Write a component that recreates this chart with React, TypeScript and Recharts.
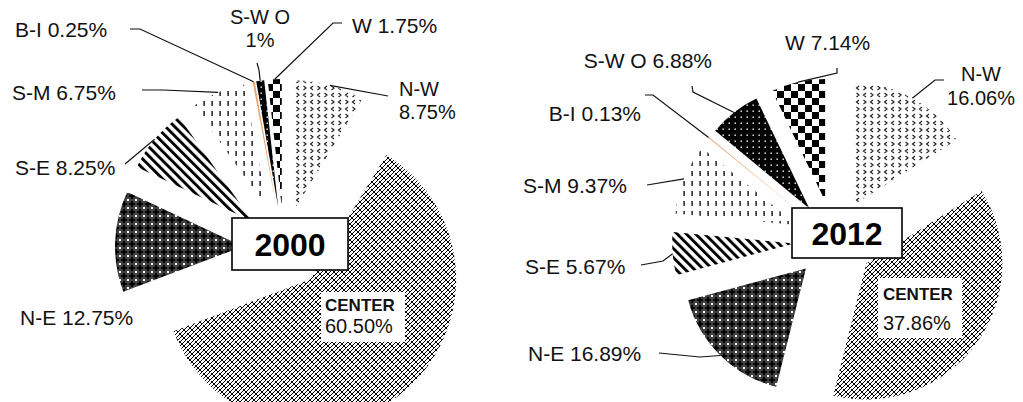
import { PieChart, Pie, Sector } from "recharts";

// regional shares, listed clockwise from 12 o'clock
const regions = ["N-W", "CENTER", "N-E", "S-E", "S-M", "B-I", "S-W O", "W"];
const share2000 = [8.75, 60.5, 12.75, 8.25, 6.75, 0.25, 1, 1.75];
const share2012 = [16.06, 37.86, 16.89, 5.67, 9.37, 0.13, 6.88, 7.14];
const years = ["2000", "2012"];

const RAD = Math.PI / 180;
const FONT = "'Liberation Sans', Arial, sans-serif";

const fills: Record<string, string> = {
  "N-W": "url(#fill-nw)",
  CENTER: "url(#fill-center)",
  "N-E": "url(#fill-ne)",
  "S-E": "url(#fill-se)",
  "S-M": "url(#fill-sm)",
  "B-I": "#eba36c",
  "S-W O": "url(#fill-swo)",
  W: "url(#fill-w)",
};

type Tag = {
  x: number;
  y: number;
  split?: boolean;
  gap?: number;
  anchor?: "start" | "middle" | "end";
  leader?: number[][];
  box?: number[];
};

const tags2000: Record<string, Tag> = {
  "N-W": { x: 399, y: 96, split: true, gap: 23, leader: [[388, 96]] },
  CENTER: { x: 325, y: 311, split: true, gap: 22, box: [321, 292, 84, 50] },
  "N-E": { x: 20, y: 325 },
  "S-E": { x: 15, y: 175, leader: [[125, 164]] },
  "S-M": { x: 12, y: 100, leader: [[142, 90], [163, 90]] },
  "B-I": { x: 15, y: 37, leader: [[130, 29], [140, 29]] },
  "S-W O": { x: 260, y: 24, split: true, gap: 23, anchor: "middle", leader: [[257, 63], [259, 70]] },
  W: { x: 352, y: 33, leader: [[342, 23], [333, 23]] },
};

const tags2012: Record<string, Tag> = {
  "N-W": { x: 981, y: 81, split: true, gap: 24, anchor: "middle", leader: [[944, 80], [935, 80]] },
  CENTER: { x: 883, y: 300, split: true, gap: 30, box: [878, 278, 84, 60] },
  "N-E": { x: 528, y: 361, leader: [[659, 353], [700, 357]] },
  "S-E": { x: 525, y: 274, leader: [[641, 265], [663, 261]] },
  "S-M": { x: 523, y: 193, leader: [[647, 185]] },
  "B-I": { x: 641, y: 121, anchor: "end", leader: [[645, 95], [653, 95]] },
  "S-W O": { x: 712, y: 68, anchor: "end", leader: [[692, 86], [693, 92]] },
  W: { x: 785, y: 50, leader: [[837, 68], [837, 73]] },
};

const charts = [
  { year: years[0], values: share2000, cx: 284, cy: 248, radius: 128, centerRadius: 146, explode: 41, tags: tags2000, box: [232, 218, 116, 52] },
  { year: years[1], values: share2012, cx: 834, cy: 240, radius: 122, centerRadius: 136, explode: 40, tags: tags2012, box: [792, 208, 110, 50] },
];

const pct = (v: number) => (Number.isInteger(v) ? `${v}%` : `${v.toFixed(2)}%`);

const sliceRadius = (name: string, base: number, center: number) => (name === "CENTER" ? center : base);

// exploded sector: pushed out from the pie centre along its mid angle
const sliceRenderer = (explode: number, centerRadius: number) => (p: any) => {
  const name = p.payload?.name ?? p.name;
  const dx = explode * Math.cos(-p.midAngle * RAD);
  const dy = explode * Math.sin(-p.midAngle * RAD);
  return (
    <Sector
      cx={p.cx + dx}
      cy={p.cy + dy}
      innerRadius={0}
      outerRadius={sliceRadius(name, p.outerRadius, centerRadius)}
      startAngle={p.startAngle}
      endAngle={p.endAngle}
      fill={fills[name]}
      stroke="none"
    />
  );
};

// text label with an optional leader line ending on the slice's outer arc
const tagRenderer = (explode: number, centerRadius: number, tags: Record<string, Tag>) => (p: any) => {
  const name = p.payload?.name ?? p.name;
  const t = tags[name];
  if (!t) return null;
  const reach = sliceRadius(name, p.outerRadius, centerRadius) + explode;
  const ax = p.cx + reach * Math.cos(-p.midAngle * RAD);
  const ay = p.cy + reach * Math.sin(-p.midAngle * RAD);
  const val = pct(p.payload?.value ?? p.value);
  const isCenter = name === "CENTER";
  const anchor = t.anchor ?? "start";
  return (
    <g>
      {t.leader && (
        <polyline
          points={[...t.leader, [ax, ay]].map((q) => q.join(",")).join(" ")}
          fill="none"
          stroke="#111"
          strokeWidth={1.2}
        />
      )}
      {t.box && <rect x={t.box[0]} y={t.box[1]} width={t.box[2]} height={t.box[3]} fill="#fff" />}
      {t.split ? (
        <>
          <text
            x={t.x}
            y={t.y}
            textAnchor={anchor}
            fontFamily={FONT}
            fontWeight={isCenter ? 700 : 400}
            fontSize={isCenter ? 17 : 20}
            fill="#111"
          >
            {name}
          </text>
          <text x={t.x} y={t.y + (t.gap ?? 23)} textAnchor={anchor} fontFamily={FONT} fontSize={20} fill="#111">
            {val}
          </text>
        </>
      ) : (
        <text x={t.x} y={t.y} textAnchor={anchor} fontFamily={FONT} fontSize={21} fill="#111">
          {`${name} ${val}`}
        </text>
      )}
    </g>
  );
};

function Patterns() {
  return (
    <svg width={0} height={0} style={{ position: "absolute" }}>
      <defs>
        <pattern id="fill-w" width={14} height={14} patternUnits="userSpaceOnUse">
          <rect width={14} height={14} fill="#fff" />
          <rect width={7} height={7} fill="#000" />
          <rect x={7} y={7} width={7} height={7} fill="#000" />
        </pattern>
        <pattern id="fill-swo" width={6} height={6} patternUnits="userSpaceOnUse">
          <rect width={6} height={6} fill="#000" />
          <rect x={2.5} y={2.5} width={1.4} height={1.4} fill="#fff" />
        </pattern>
        <pattern id="fill-sm" width={8} height={10} patternUnits="userSpaceOnUse">
          <rect width={8} height={10} fill="#fff" />
          <rect x={3.4} y={1} width={1.4} height={5} fill="#111" />
        </pattern>
        <pattern id="fill-se" width={6.5} height={6.5} patternUnits="userSpaceOnUse" patternTransform="rotate(-45)">
          <rect width={6.5} height={6.5} fill="#fff" />
          <rect width={2.9} height={6.5} fill="#000" />
        </pattern>
        <pattern id="fill-ne" width={8} height={8} patternUnits="userSpaceOnUse">
          <rect width={8} height={8} fill="#404040" />
          <rect x={3} y={1} width={2} height={6} fill="#000" />
          <rect x={1} y={3} width={6} height={2} fill="#000" />
          <rect x={0} y={0} width={1} height={1} fill="#fff" />
          <rect x={7} y={0} width={1} height={1} fill="#fff" />
          <rect x={0} y={7} width={1} height={1} fill="#fff" />
          <rect x={7} y={7} width={1} height={1} fill="#fff" />
        </pattern>
        <pattern id="fill-nw" width={14} height={14} patternUnits="userSpaceOnUse">
          <rect width={14} height={14} fill="#fff" />
          <path
            d="M5 2 L2.5 4 L5 6 M9.5 2 L12 4 L9.5 6 M2.5 9 L5 11 L2.5 13 M12 9 L9.5 11 L12 13"
            fill="none"
            stroke="#222"
            strokeWidth={1.2}
          />
        </pattern>
        <pattern id="fill-center" width={8} height={8} patternUnits="userSpaceOnUse">
          <rect width={8} height={8} fill="#fff" />
          <path
            d="M0 2 L2 0 M0 6 L6 0 L8 2 M2 8 L8 2 M6 8 L8 6 M3 5 L6 8 M0 2 L2 4"
            fill="none"
            stroke="#000"
            strokeWidth={1.25}
            shapeRendering="crispEdges"
          />
        </pattern>
      </defs>
    </svg>
  );
}

export default function App() {
  return (
    <div style={{ position: "absolute", left: 0, top: 0, width: 1023, height: 402, background: "#fff" }}>
      <Patterns />
      <PieChart width={1023} height={402} margin={{ top: 0, right: 0, bottom: 0, left: 0 }}>
        {charts.map((c) => {
          const data = regions.map((name, i) => ({ name, value: c.values[i] }));
          return [
            <Pie
              key={`${c.year}-slices`}
              data={data}
              dataKey="value"
              nameKey="name"
              cx={c.cx}
              cy={c.cy}
              innerRadius={0}
              outerRadius={c.radius}
              startAngle={90}
              endAngle={-270}
              fill="none"
              stroke="none"
              labelLine={false}
              label={sliceRenderer(c.explode, c.centerRadius)}
              isAnimationActive={false}
            />,
            <Pie
              key={`${c.year}-tags`}
              data={data}
              dataKey="value"
              nameKey="name"
              cx={c.cx}
              cy={c.cy}
              innerRadius={0}
              outerRadius={c.radius}
              startAngle={90}
              endAngle={-270}
              fill="none"
              stroke="none"
              labelLine={false}
              label={tagRenderer(c.explode, c.centerRadius, c.tags)}
              isAnimationActive={false}
            />,
          ];
        })}
      </PieChart>
      <svg width={1023} height={402} style={{ position: "absolute", left: 0, top: 0, pointerEvents: "none" }}>
        {charts.map((c) => (
          <g key={c.year}>
            <rect x={c.box[0]} y={c.box[1]} width={c.box[2]} height={c.box[3]} fill="#fff" stroke="#000" strokeWidth={1.6} />
            <text
              x={c.box[0] + c.box[2] / 2}
              y={c.box[1] + c.box[3] / 2 + 11.5}
              textAnchor="middle"
              fontFamily="'Liberation Sans', Arial, sans-serif"
              fontWeight={700}
              fontSize={32}
              fill="#000"
            >
              {c.year}
            </text>
          </g>
        ))}
      </svg>
    </div>
  );
}
